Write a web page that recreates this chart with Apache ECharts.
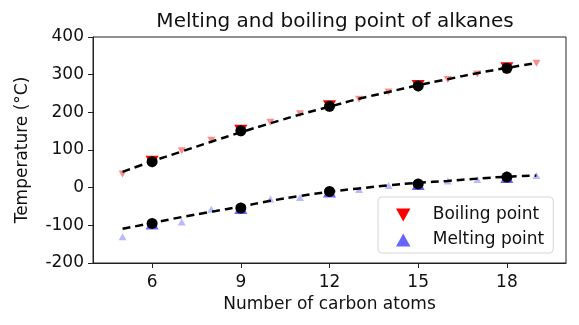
<!DOCTYPE html>
<html>
<head>
<meta charset="utf-8">
<script src="https://cdn.jsdelivr.net/npm/echarts@6/dist/echarts.min.js"></script>
<style>
  html, body { margin: 0; padding: 0; background: #fff; }
  #chart { width: 579px; height: 325px; }
</style>
</head>
<body>
<div id="chart"></div>
<script>
// Number of carbon atoms in each alkane (pentane .. nonadecane)
const carbonAtoms = [5, 6, 7, 8, 9, 10, 11, 12, 13, 14, 15, 16, 17, 18, 19];
// Boiling and melting points in °C
const boilingPoints = [36, 69, 98, 126, 151, 174, 196, 216, 235, 254, 270, 287, 302, 317, 330];
const meltingPoints = [-130, -95, -91, -57, -54, -30, -26, -10, -5, 6, 10, 18, 22, 28, 32];
// Smooth trend curves through each set of points
const boilingTrend = [42, 70, 96, 122, 147, 171, 194, 215, 236, 254, 272, 288, 304, 318, 331];
const meltingTrend = [-109, -94, -78, -64, -50, -35, -22, -11, -2, 6, 13, 18, 24, 29, 32];
// Alkanes singled out on the chart
const highlightedAtoms = [6, 9, 12, 15, 18];
const xTicks = [6, 9, 12, 15, 18];
const yTicks = [-200, -100, 0, 100, 200, 300, 400];

const pairs = (xs, ys) => xs.map((x, i) => [x, ys[i]]);
const pick = (xs, ys, keep) => xs.map((x, i) => [x, ys[i]]).filter(p => keep(p[0]));
const isHighlighted = x => highlightedAtoms.includes(x);

const downTriangle = 'path://M0,0 L10,0 L5,9 Z';
const upTriangle = 'path://M5,0 L10,9 L0,9 Z';
const font = 'DejaVu Sans';
const ink = '#111';

const chart = echarts.init(document.getElementById('chart'), null, { renderer: 'canvas' });
chart.setOption({
  animation: false,
  textStyle: { fontFamily: font, color: ink },
  title: {
    text: 'Melting and boiling point of alkanes',
    left: 330, top: 7, textAlign: 'center',
    textStyle: { fontFamily: font, fontSize: 20, fontWeight: 'normal', color: ink }
  },
  grid: {
    left: 93, right: 13, top: 37, bottom: 62,
    show: true, borderColor: '#222', borderWidth: 1, backgroundColor: 'transparent'
  },
  legend: {
    left: 378, top: 197,
    orient: 'vertical',
    padding: [8, 9, 3, 18],
    itemGap: 5,
    itemWidth: 49, itemHeight: 13,
    itemStyle: { borderWidth: 0 },
    backgroundColor: 'rgba(255,255,255,0.8)',
    borderColor: '#d6d6d6', borderWidth: 1, borderRadius: 4,
    textStyle: { fontFamily: font, fontSize: 17, color: ink, lineHeight: 20 },
    data: [
      { name: 'Boiling point', icon: downTriangle },
      { name: 'Melting point', icon: upTriangle }
    ]
  },
  xAxis: {
    type: 'value', min: 4, max: 20,
    name: 'Number of carbon atoms', nameLocation: 'middle', nameGap: 28,
    nameTextStyle: { fontFamily: font, fontSize: 17, color: ink },
    axisLine: { show: true, onZero: false, lineStyle: { color: '#222', width: 1 } },
    axisTick: { show: true, inside: false, length: 5, lineStyle: { color: '#222' }, customValues: xTicks },
    axisLabel: { fontFamily: font, fontSize: 17, color: ink, margin: 11, customValues: xTicks },
    splitLine: { show: false }
  },
  yAxis: {
    type: 'value', min: -200, max: 400, interval: 100,
    name: 'Temperature (°C)', nameLocation: 'middle', nameGap: 62, nameRotate: 90,
    nameTextStyle: { fontFamily: font, fontSize: 17, color: ink },
    axisLine: { show: true, onZero: false, lineStyle: { color: '#222', width: 1 } },
    axisTick: { show: true, inside: false, length: 5, lineStyle: { color: '#222' }, customValues: yTicks },
    axisLabel: { fontFamily: font, fontSize: 17, color: ink, margin: 9, customValues: yTicks },
    splitLine: { show: false }
  },
  series: [
    {
      name: 'boiling-other', type: 'scatter', z: 2,
      symbol: downTriangle, symbolSize: [8, 7],
      itemStyle: { color: 'rgba(255,0,0,0.45)', opacity: 1 },
      data: pick(carbonAtoms, boilingPoints, x => !isHighlighted(x))
    },
    {
      name: 'melting-other', type: 'scatter', z: 2,
      symbol: upTriangle, symbolSize: [8, 7],
      itemStyle: { color: 'rgba(100,100,255,0.45)', opacity: 1 },
      data: pick(carbonAtoms, meltingPoints, x => !isHighlighted(x))
    },
    {
      name: 'Boiling point', type: 'scatter', z: 3,
      symbol: downTriangle, symbolSize: [13, 12],
      itemStyle: { color: '#ff0000', opacity: 1 },
      data: pick(carbonAtoms, boilingPoints, isHighlighted)
    },
    {
      name: 'Melting point', type: 'scatter', z: 3,
      symbol: upTriangle, symbolSize: [13, 12],
      itemStyle: { color: '#6666ff', opacity: 1 },
      data: pick(carbonAtoms, meltingPoints, isHighlighted)
    },
    {
      name: 'boiling-trend', type: 'line', z: 4, smooth: true, symbol: 'none',
      lineStyle: { color: '#000', width: 2.5, type: [8, 5] },
      data: pairs(carbonAtoms, boilingTrend)
    },
    {
      name: 'melting-trend', type: 'line', z: 4, smooth: true, symbol: 'none',
      lineStyle: { color: '#000', width: 2.5, type: [8, 5] },
      data: pairs(carbonAtoms, meltingTrend)
    },
    {
      name: 'boiling-dots', type: 'scatter', z: 5,
      symbol: 'circle', symbolSize: 11,
      itemStyle: { color: '#000', opacity: 1 },
      data: pick(carbonAtoms, boilingPoints, isHighlighted)
    },
    {
      name: 'melting-dots', type: 'scatter', z: 5,
      symbol: 'circle', symbolSize: 11,
      itemStyle: { color: '#000', opacity: 1 },
      data: pick(carbonAtoms, meltingPoints, isHighlighted)
    }
  ]
});
</script>
</body>
</html>
